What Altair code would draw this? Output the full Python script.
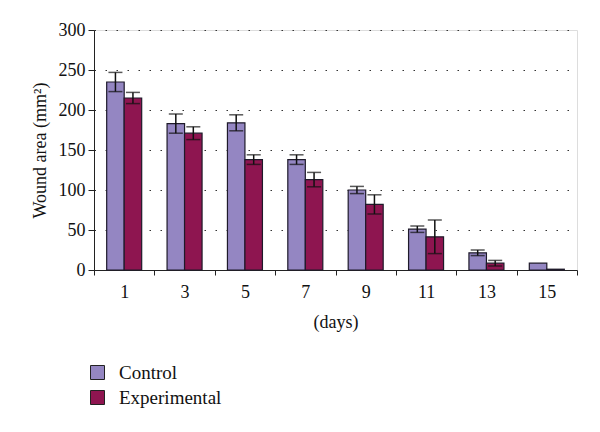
import altair as alt
import pandas as pd

days = ["1", "3", "5", "7", "9", "11", "13", "15"]
groups = ["Control", "Experimental"]
control = [235, 183, 184, 138, 100, 51, 21.5, 8.5]
control_err = [12, 12, 10, 6, 4.5, 4, 3.5, 0]
experimental = [215, 171, 138, 113, 82, 41.5, 8.5, 1]
experimental_err = [7, 8, 6, 9, 12, 21, 3.5, 0]
y_ticks = [0, 50, 100, 150, 200, 250, 300]

rows = []
for i, d in enumerate(days):
    rows.append({"day": d, "group": "Control", "value": control[i], "err": control_err[i]})
    rows.append({"day": d, "group": "Experimental", "value": experimental[i], "err": experimental_err[i]})
df = pd.DataFrame(rows)
df["lo"] = df["value"] - df["err"]
df["hi"] = df["value"] + df["err"]
dfe = df[df["err"] > 0]

FONT = "Liberation Serif"
colors = ["#9486c2", "#8e1550"]

x_axis = alt.Axis(labelAngle=0, tickBand="extent", tickSize=5,
                  labelPadding=8, titlePadding=12, labelFontSize=18,
                  titleFontSize=18, titleFontWeight="normal",
                  domainColor="#222", tickColor="#222", labelColor="#111",
                  titleColor="#111", labelFont=FONT, titleFont=FONT)
y_axis = alt.Axis(values=y_ticks, tickSize=6, labelOverlap=False,
                  labelFlush=False,
                  grid=True, gridDash=[1.5, 9.5], gridColor="#333",
                  gridWidth=1.2, labelFontSize=18, titleFontSize=18,
                  titleFontWeight="normal", labelPadding=3, titlePadding=9,
                  domainColor="#222", tickColor="#222", labelColor="#111",
                  titleColor="#111", labelFont=FONT, titleFont=FONT)
x_scale = alt.Scale(paddingInner=0, paddingOuter=0)
y_scale = alt.Scale(domain=[0, 300], nice=False, zero=True)
XT = "(days)"
YT = "Wound area (mm²)"

def xenc():
    return alt.X("day:N", sort=days, title=XT, scale=x_scale, axis=x_axis)

xoff = alt.XOffset("group:N", sort=groups,
                   scale=alt.Scale(paddingInner=0, paddingOuter=0.725))

bars = alt.Chart(df).mark_bar(stroke="#1e1a2a", strokeWidth=1.2).encode(
    x=xenc(),
    xOffset=xoff,
    y=alt.Y("value:Q", scale=y_scale, title=YT, axis=y_axis),
    color=alt.Color("group:N", sort=groups,
                    scale=alt.Scale(domain=groups, range=colors),
                    legend=alt.Legend(title=None, orient="none", legendX=-6, legendY=333,
                                      symbolType="square", symbolSize=196,
                                      symbolStrokeColor="#222", symbolStrokeWidth=1,
                                      labelFontSize=19, labelFont=FONT, labelColor="#111",
                                      rowPadding=5, labelOffset=12)),
)

rules = alt.Chart(dfe).mark_rule(color="#111", strokeWidth=1.5).encode(
    x=xenc(), xOffset=xoff,
    y=alt.Y("lo:Q", scale=y_scale, title=YT, axis=y_axis), y2="hi:Q")

caps_hi = alt.Chart(dfe).mark_tick(color="#111", thickness=1.5, size=14).encode(
    x=xenc(), xOffset=xoff,
    y=alt.Y("hi:Q", scale=y_scale, title=YT, axis=y_axis))
caps_lo = alt.Chart(dfe).mark_tick(color="#111", thickness=1.5, size=14).encode(
    x=xenc(), xOffset=xoff,
    y=alt.Y("lo:Q", scale=y_scale, title=YT, axis=y_axis))

chart = alt.layer(bars, rules, caps_hi, caps_lo).properties(
    width=483, height=240,
    autosize=alt.AutoSizeParams(type="none"),
    padding={"left": 86, "top": 22, "right": 15, "bottom": 154},
).configure_view(stroke="#222", strokeWidth=1.2).configure(background="white")

chart.save("out.html", embed_options={"renderer": "svg", "actions": False})
